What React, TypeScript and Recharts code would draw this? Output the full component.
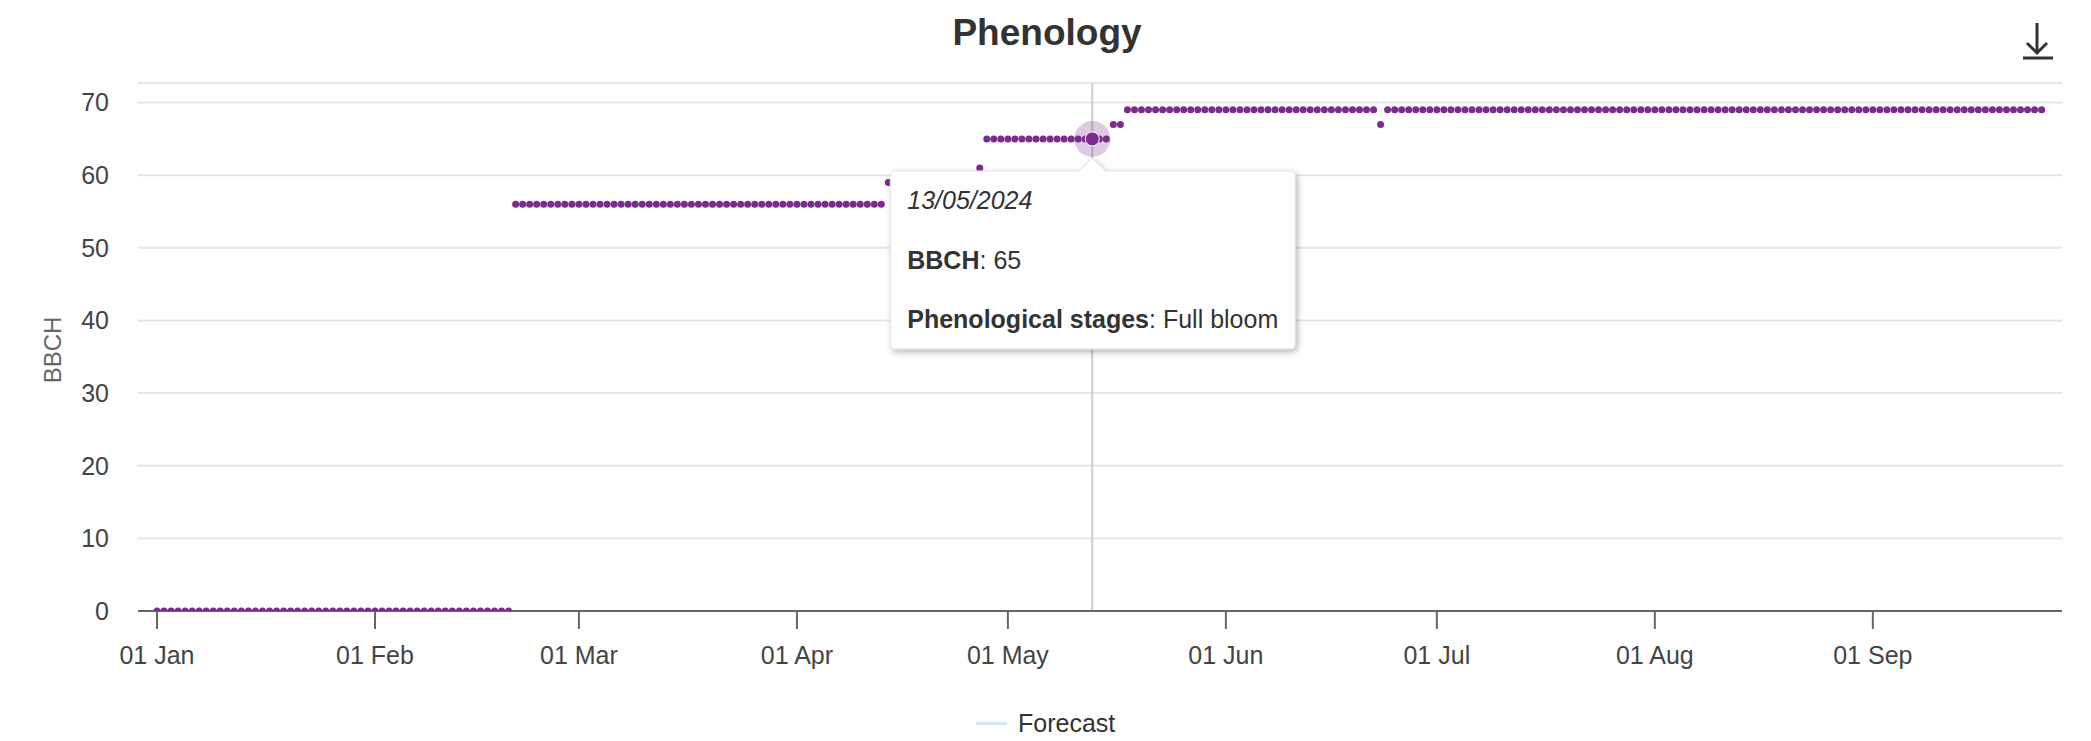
import { ScatterChart, Scatter, XAxis, YAxis, CartesianGrid, ReferenceLine } from 'recharts';

// ── Data (day index from 01 Jan 2024, one point per day) ─────────────────────
const MONTH_TICKS = [0, 31, 60, 91, 121, 152, 182, 213, 244];
const MONTH_LABELS = ['01 Jan', '01 Feb', '01 Mar', '01 Apr', '01 May', '01 Jun', '01 Jul', '01 Aug', '01 Sep'];
const Y_TICKS = [0, 10, 20, 30, 40, 50, 60, 70];

const BBCH_JAN = [
  0, 0, 0, 0, 0, 0, 0, 0, 0, 0,
  0, 0, 0, 0, 0, 0, 0, 0, 0, 0,
  0, 0, 0, 0, 0, 0, 0, 0, 0, 0,
  0,
];
const BBCH_FEB = [
  0, 0, 0, 0, 0, 0, 0, 0, 0, 0,
  0, 0, 0, 0, 0, 0, 0, 0, 0, 0,
  56, 56, 56, 56, 56, 56, 56, 56, 56,
];
const BBCH_MAR = [
  56, 56, 56, 56, 56, 56, 56, 56, 56, 56,
  56, 56, 56, 56, 56, 56, 56, 56, 56, 56,
  56, 56, 56, 56, 56, 56, 56, 56, 56, 56,
  56,
];
const BBCH_APR = [
  56, 56, 56, 56, 56, 56, 56, 56, 56, 56,
  56, 56, 56, 59, 59, 59, 59, 59, 59, 59,
  59, 59, 59, 59, 59, 59, 61, 65, 65, 65,
];
const BBCH_MAY = [
  65, 65, 65, 65, 65, 65, 65, 65, 65, 65,
  65, 65, 65, 65, 65, 67, 67, 69, 69, 69,
  69, 69, 69, 69, 69, 69, 69, 69, 69, 69,
  69,
];
const BBCH_JUN = [
  69, 69, 69, 69, 69, 69, 69, 69, 69, 69,
  69, 69, 69, 69, 69, 69, 69, 69, 69, 69,
  69, 69, 67, 69, 69, 69, 69, 69, 69, 69,
];
const BBCH_JUL = [
  69, 69, 69, 69, 69, 69, 69, 69, 69, 69,
  69, 69, 69, 69, 69, 69, 69, 69, 69, 69,
  69, 69, 69, 69, 69, 69, 69, 69, 69, 69,
  69,
];
const BBCH_AUG = [
  69, 69, 69, 69, 69, 69, 69, 69, 69, 69,
  69, 69, 69, 69, 69, 69, 69, 69, 69, 69,
  69, 69, 69, 69, 69, 69, 69, 69, 69, 69,
  69,
];
const BBCH_SEP = [
  69, 69, 69, 69, 69, 69, 69, 69, 69, 69,
  69, 69, 69, 69, 69, 69, 69, 69, 69, 69,
  69, 69, 69, 69, 69,
];

const BBCH = [
  ...BBCH_JAN, ...BBCH_FEB, ...BBCH_MAR, ...BBCH_APR, ...BBCH_MAY,
  ...BBCH_JUN, ...BBCH_JUL, ...BBCH_AUG, ...BBCH_SEP,
];

// hovered point shown with the tooltip (13/05/2024)
const HOVER_DAY = 133;
const HOVER_STAGE = 'Full bloom';

const PURPLE = '#7b2a8f';
const FONT = '"Liberation Sans", Arial, Helvetica, sans-serif';

const points = BBCH.map((v, i) => ({ day: i, bbch: v }));
const hovered = [points[HOVER_DAY]];

function fmtDate(day: number): string {
  const d = new Date(2024, 0, 1 + day);
  const dd = String(d.getDate()).padStart(2, '0');
  const mm = String(d.getMonth() + 1).padStart(2, '0');
  return `${dd}/${mm}/${d.getFullYear()}`;
}

function Dot(props: any) {
  return <circle cx={props.cx} cy={props.cy} r={3.5} fill={PURPLE} />;
}

// hover marker + halo + tooltip box, anchored on the point
function HoverMark(props: any) {
  const { cx, cy, payload } = props;
  const bw = 405, bh = 178, r = 5;
  const bx = cx - 202, by = cy + 32;
  const path = [
    `M${bx + r},${by}`,
    `L${cx - 13},${by} L${cx},${cy + 19} L${cx + 13},${by}`,
    `L${bx + bw - r},${by} Q${bx + bw},${by} ${bx + bw},${by + r}`,
    `L${bx + bw},${by + bh - r} Q${bx + bw},${by + bh} ${bx + bw - r},${by + bh}`,
    `L${bx + r},${by + bh} Q${bx},${by + bh} ${bx},${by + bh - r}`,
    `L${bx},${by + r} Q${bx},${by} ${bx + r},${by} Z`,
  ].join(' ');
  const tx = bx + 17;
  return (
    <g>
      <defs>
        <filter id="tipShadow" x="-10%" y="-10%" width="130%" height="140%">
          <feDropShadow dx="2" dy="3" stdDeviation="3" floodColor="#000" floodOpacity="0.28" />
        </filter>
      </defs>
      <circle cx={cx} cy={cy} r={18} fill={PURPLE} fillOpacity={0.25} />
      <circle cx={cx} cy={cy} r={7} fill={PURPLE} stroke="#fff" strokeWidth={1} />
      <path d={path} fill="#fff" stroke="#dedede" strokeWidth={1} filter="url(#tipShadow)" />
      <g fontFamily={FONT} fontSize={25} fill="#333">
        <text x={tx} y={cy + 70} fontStyle="italic">{fmtDate(payload.day)}</text>
        <text x={tx} y={cy + 130}>
          <tspan fontWeight="bold">BBCH</tspan>: {payload.bbch}
        </text>
        <text x={tx} y={cy + 189}>
          <tspan fontWeight="bold">Phenological stages</tspan>: {HOVER_STAGE}
        </text>
      </g>
    </g>
  );
}

export default function App() {
  return (
    <div style={{ position: 'relative', width: 2075, height: 725, fontFamily: FONT, background: '#fff' }}>
      <div
        style={{
          position: 'absolute', left: 1.5, top: 6, width: 2075, textAlign: 'center',
          fontSize: 37, lineHeight: '37px', fontWeight: 'bold', color: '#333',
        }}
      >
        Phenology
      </div>

      {/* download icon */}
      <svg style={{ position: 'absolute', left: 2005, top: 8 }} width={50} height={50}>
        <g stroke="#333" strokeWidth={3} fill="none">
          <line x1={24} y1={7} x2={24} y2={37} />
          <polyline points="14,27 24,37 34,27" />
          <line x1={10} y1={42} x2={40} y2={42} />
        </g>
      </svg>

      <ScatterChart width={2075} height={725} margin={{ top: 75, right: 21, left: 30, bottom: 62 }}>
        <CartesianGrid vertical={false} stroke="#e6e6e6" strokeWidth={2} />
        <XAxis
          type="number"
          dataKey="day"
          domain={[-2.7, 270.9]}
          allowDataOverflow
          ticks={MONTH_TICKS}
          interval={0}
          tickFormatter={(v: number) => MONTH_LABELS[MONTH_TICKS.indexOf(v)]}
          axisLine={{ stroke: '#666', strokeWidth: 2 }}
          tickLine={{ stroke: '#666', strokeWidth: 2 }}
          tickSize={18}
          tickMargin={17}
          tick={{ fill: '#444', fontSize: 25 }}
          height={60}
        />
        <YAxis
          type="number"
          dataKey="bbch"
          domain={[0, 72.7]}
          allowDataOverflow
          ticks={Y_TICKS}
          interval={0}
          axisLine={false}
          tickLine={false}
          tickSize={6}
          tickMargin={23}
          tick={{ fill: '#444', fontSize: 25 }}
          width={100}
          label={(p: any) => {
            const vb = p.viewBox;
            const x = vb.x + 14.5;
            const y = vb.y + vb.height / 2 + 3;
            return (
              <text
                x={x} y={y} transform={`rotate(-90 ${x} ${y})`}
                textAnchor="middle" dominantBaseline="central"
                fontSize={24} fill="#666" fontFamily={FONT}
              >
                BBCH
              </text>
            );
          }}
        />
        <ReferenceLine x={HOVER_DAY} stroke="#cccccc" strokeWidth={2} />
        <Scatter name="BBCH" data={points} shape={Dot} isAnimationActive={false} />
        <Scatter name="hover" data={hovered} shape={HoverMark} isAnimationActive={false} />
      </ScatterChart>

      {/* legend */}
      <div
        style={{
          position: 'absolute', left: 968, top: 703, height: 25,
          display: 'flex', alignItems: 'center', fontSize: 25, color: '#333',
        }}
      >
        <span style={{ display: 'inline-block', width: 31, height: 3, background: '#d3e7f7', marginRight: 11 }} />
        <span style={{ lineHeight: '25px' }}>Forecast</span>
      </div>
    </div>
  );
}
